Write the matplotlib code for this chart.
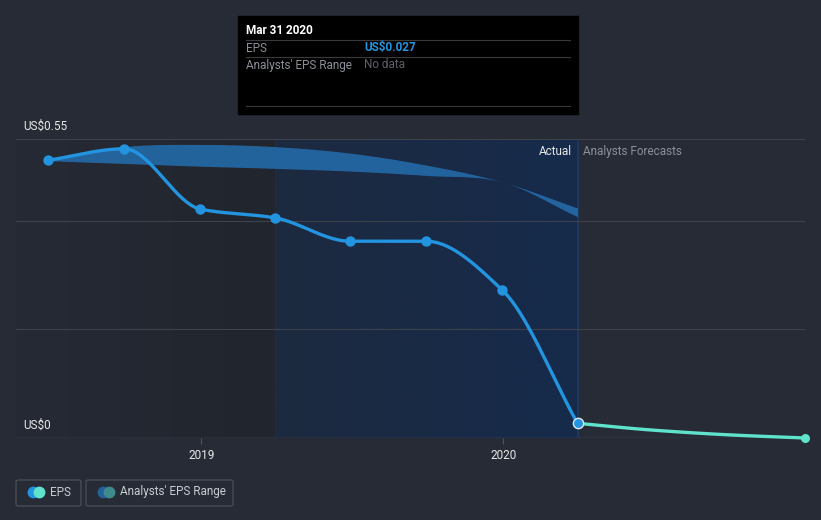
"""EPS history and analysts' forecast chart, dark theme."""

import matplotlib
matplotlib.use("Agg")
import matplotlib.dates as mdates
import matplotlib.pyplot as plt
import numpy as np
import pandas as pd
from matplotlib.patches import FancyBboxPatch, Rectangle

# ---- data -----------------------------------------------------------------
eps_dates = ["2018-06-30", "2018-09-30", "2018-12-31", "2019-03-31",
             "2019-06-30", "2019-09-30", "2019-12-31", "2020-03-31"]
eps_values = [0.511, 0.532, 0.421, 0.405, 0.362, 0.362, 0.272, 0.027]

forecast_dates = ["2020-03-31", "2020-06-30", "2020-09-30", "2020-12-31"]
forecast_values = [0.027, 0.0145, 0.0058, 0.0]

range_dates = ["2018-06-30", "2018-09-30", "2018-12-31", "2019-03-31",
               "2019-06-30", "2019-09-30", "2019-12-31", "2020-03-31"]
range_high = [0.510, 0.536, 0.540, 0.536, 0.524, 0.502, 0.471, 0.423]
range_low = [0.510, 0.505, 0.500, 0.496, 0.491, 0.483, 0.471, 0.407]

y_ticks = [0.0, 0.55]
y_tick_labels = ["US$0", "US$0.55"]
grid_values = [0.2, 0.4, 0.55]
x_ticks = ["2019-01-01", "2020-01-01"]
x_tick_labels = ["2019", "2020"]

# ---- style ----------------------------------------------------------------
BG = "#262b36"
GRID = "#3d424d"
EPS_BLUE = "#2394df"
FORECAST = "#5fe3cc"
BAND = "#2467a3"
TEXT = "#e8e8e8"
MUTED = "#8b8f97"
FS = 8.5

plt.rcParams["font.family"] = ["Roboto", "DejaVu Sans"]


def hermite(x, y, m, n=40):
    xs, ys = [], []
    h = np.diff(x)
    for i in range(len(x) - 1):
        t = np.linspace(0, 1, n)
        h00 = 2 * t**3 - 3 * t**2 + 1
        h10 = t**3 - 2 * t**2 + t
        h01 = -2 * t**3 + 3 * t**2
        h11 = t**3 - t**2
        xs.append(x[i] + t * h[i])
        ys.append(h00 * y[i] + h10 * h[i] * m[i] + h01 * y[i + 1] + h11 * h[i] * m[i + 1])
    return np.concatenate(xs), np.concatenate(ys)


def monotone(x, y):
    """Monotone cubic (Fritsch-Carlson) curve, like d3 monotoneX."""
    x = np.asarray(x, float)
    y = np.asarray(y, float)
    h = np.diff(x)
    d = np.diff(y) / h
    m = np.zeros_like(y)
    m[0], m[-1] = d[0], d[-1]
    for i in range(1, len(y) - 1):
        if d[i - 1] * d[i] <= 0:
            m[i] = 0.0
        else:
            w1 = 2 * h[i] + h[i - 1]
            w2 = h[i] + 2 * h[i - 1]
            m[i] = (w1 + w2) / (w1 / d[i - 1] + w2 / d[i])
    return hermite(x, y, m)


def smooth(x, y):
    """Catmull-Rom style curve (central-difference tangents)."""
    x = np.asarray(x, float)
    y = np.asarray(y, float)
    return hermite(x, y, np.gradient(y, x))


def to_num(dates):
    return mdates.date2num(pd.to_datetime(dates))


W, H = 821, 520
fig = plt.figure(figsize=(W / 100, H / 100), dpi=100, facecolor=BG)

# axes: x 16..805 px, y 139..438 px
ax = fig.add_axes([16 / W, (H - 438) / H, 789 / W, 299 / H])
ax.set_facecolor(BG)

x_eps = to_num(eps_dates)
x_fc = to_num(forecast_dates)
x_rng = to_num(range_dates)

x_left = mdates.date2num(pd.Timestamp("2018-05-22"))
x_right = mdates.date2num(pd.Timestamp("2020-12-31"))
ax.set_xlim(x_left, x_right)
ax.set_ylim(0, 0.55)

x_split = mdates.date2num(pd.Timestamp("2019-03-31"))
x_now = x_eps[-1]

# shaded background regions (horizontal gradients)
grad = np.linspace(0, 1, 256).reshape(1, -1)
dark = matplotlib.colors.LinearSegmentedColormap.from_list("dark", ["#262a35", "#21252d"])
navy = matplotlib.colors.LinearSegmentedColormap.from_list("navy", ["#1d2a40", "#162a4b"])
ax.imshow(grad, cmap=dark, aspect="auto", extent=[x_left, x_split, 0, 0.55], zorder=0)
ax.imshow(grad, cmap=navy, aspect="auto", extent=[x_split, x_now, 0, 0.55], zorder=0)
ax.axvline(x_split, color="#1f2c42", lw=0.8, zorder=1)
ax.axvline(x_now, color="#1f3a63", lw=1.2, zorder=1)

for g in grid_values:
    ax.axhline(g, color=GRID, lw=0.8, zorder=1)
ax.axhline(0, color="#4e535e", lw=1.0, zorder=1)

# analysts' range band
bx, bh = smooth(x_rng, range_high)
_, bl = smooth(x_rng, range_low)
ax.fill_between(bx, bl, bh, color=BAND, alpha=0.95, lw=0, zorder=2)

# EPS line
ex, ey = monotone(x_eps, eps_values)
ax.plot(ex, ey, color=EPS_BLUE, lw=2.4, zorder=4, solid_capstyle="round")
ax.scatter(x_eps[:-1], eps_values[:-1], s=42, color=EPS_BLUE, zorder=5, clip_on=False)

# forecast line
fx, fy = monotone(x_fc, forecast_values)
ax.plot(fx, fy, color=FORECAST, lw=2.4, zorder=4, clip_on=False)
ax.scatter([x_fc[-1]], [forecast_values[-1]], s=30, color=FORECAST, marker="o",
           zorder=5, clip_on=False)
ax.scatter([x_now], [eps_values[-1]], s=55, color=EPS_BLUE, edgecolor="#dfe8f2",
           linewidth=1.0, zorder=6, clip_on=False)

for s in ax.spines.values():
    s.set_visible(False)
ax.set_yticks([])
ax.set_xticks(to_num(x_ticks))
ax.set_xticklabels(x_tick_labels, color=TEXT, fontsize=FS)
ax.tick_params(axis="x", length=4, color="#4e535e", pad=4)

for v, lab in zip(y_ticks, y_tick_labels):
    ax.text(x_left + 9, v + 0.012, lab, color=TEXT, fontsize=FS, va="bottom", ha="left")

ax.text(x_now - 7, 0.527, "Actual", color=TEXT, fontsize=FS, ha="right", va="center")
ax.text(x_now + 7, 0.527, "Analysts Forecasts", color=MUTED, fontsize=FS, ha="left", va="center")

# tooltip box
fig.patches.append(Rectangle((238 / W, 1 - 114 / H), 340 / W, 98 / H,
                             transform=fig.transFigure, color="black", zorder=10))
for yy in (40, 57, 106):
    fig.add_artist(plt.Line2D([246 / W, 570 / W], [1 - yy / H] * 2, color="#3a3a3a",
                              lw=0.8, transform=fig.transFigure, zorder=11))
fig.text(246 / W, 1 - 31 / H, "Mar 31 2020", color="white", fontsize=FS,
         fontweight="bold", va="center", zorder=12)
fig.text(246 / W, 1 - 48 / H, "EPS", color=MUTED, fontsize=FS, va="center", zorder=12)
fig.text(364 / W, 1 - 48 / H, "US$0.027", color=EPS_BLUE, fontsize=FS,
         fontweight="bold", va="center", zorder=12)
fig.text(246 / W, 1 - 65 / H, "Analysts' EPS Range", color=MUTED, fontsize=FS,
         va="center", zorder=12)
fig.text(364 / W, 1 - 65 / H, "No data", color="#5d6068", fontsize=FS, va="center", zorder=12)


# legend
def legend_box(x0, x1, label, c1, c2):
    fig.patches.append(FancyBboxPatch((x0 / W, 1 - 506 / H), (x1 - x0) / W, 26 / H,
                                      boxstyle="round,pad=0,rounding_size=0.003",
                                      transform=fig.transFigure, facecolor="none",
                                      edgecolor="#4a4f5a", lw=0.9))
    fig.add_artist(plt.Line2D([(x0 + 17) / W], [1 - 492 / H], marker="o", ms=7.5,
                              color=c1, lw=0, transform=fig.transFigure))
    fig.add_artist(plt.Line2D([(x0 + 23) / W], [1 - 492 / H], marker="o", ms=7.5,
                              color=c2, lw=0, transform=fig.transFigure))
    fig.text((x0 + 34) / W, 1 - 492 / H, label, color="#c9ccd1", fontsize=FS, va="center")


legend_box(16, 81, "EPS", EPS_BLUE, FORECAST)
legend_box(86, 233, "Analysts' EPS Range", "#23619a", "#3f8a8c")

fig.savefig("out.png", dpi=100, facecolor=BG)
